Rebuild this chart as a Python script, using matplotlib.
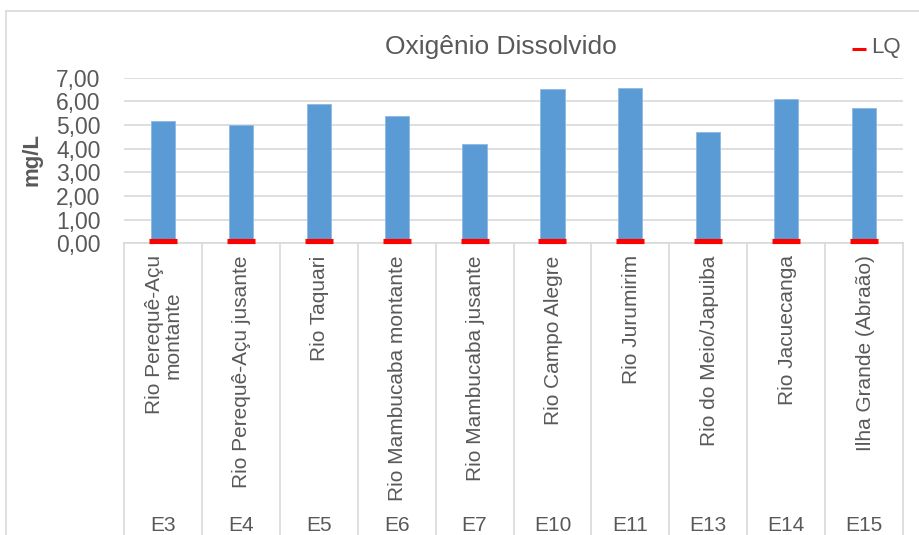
import matplotlib.pyplot as plt
from matplotlib.lines import Line2D
from matplotlib.transforms import blended_transform_factory

# station codes, site names and dissolved oxygen (mg/L)
stations = ["E3", "E4", "E5", "E6", "E7", "E10", "E11", "E13", "E14", "E15"]
sites = ["Rio Perequê-Açu\nmontante", "Rio Perequê-Açu jusante", "Rio Taquari",
         "Rio Mambucaba montante", "Rio Mambucaba jusante", "Rio Campo Alegre",
         "Rio Jurumirim", "Rio do Meio/Japuiba", "Rio Jacuecanga",
         "Ilha Grande (Abraão)"]
od_values = [5.17, 5.00, 5.87, 5.38, 4.20, 6.51, 6.58, 4.69, 6.09, 5.71]
lq_values = [0.10] * 10
y_ticks = [0, 1, 2, 3, 4, 5, 6, 7]

text_col = "#595959"
grid_col = "#D9D9D9"
plt.rcParams["font.family"] = ["Liberation Sans", "DejaVu Sans"]

W, H = 920, 535
fig = plt.figure(figsize=(9.2, 5.35), dpi=100)
ax = fig.add_axes([124 / W, 1 - 243.3 / H, 779 / W, 165.6 / H])

x = list(range(len(stations)))
ax.bar(x, od_values, width=0.31, color="#5B9BD5", edgecolor="#8DB9E4",
       linewidth=0.6, zorder=2)
ax.plot(x, lq_values, linestyle="none", marker="_", markersize=19.5,
        markeredgewidth=3.7, color="#FF0000", zorder=3, clip_on=False)

ax.set_xlim(-0.5, len(stations) - 0.5)
ax.set_ylim(0, 7)
ax.set_yticks(y_ticks)
ax.set_yticklabels([f"{v:.2f}".replace(".", ",") for v in y_ticks])
ax.tick_params(axis="y", length=0, labelsize=16.5, colors=text_col, pad=17)
ax.set_xticks([])
ax.grid(axis="y", color=grid_col, linewidth=1.2, zorder=0)
for s in ["top", "right", "left"]:
    ax.spines[s].set_visible(False)
ax.spines["bottom"].set_color(grid_col)
ax.spines["bottom"].set_linewidth(1.2)

ax.set_ylabel("mg/L", fontsize=16, fontweight="bold", color=text_col)
ax.yaxis.set_label_coords(-0.105, 0.506)

# multi-level category axis
trans = blended_transform_factory(ax.transData, ax.transAxes)
for i, (st, site) in enumerate(zip(stations, sites)):
    ax.annotate(site, xy=(i, 0), xycoords=trans, xytext=(1, -12),
                textcoords="offset pixels", rotation=90, ha="center", va="top",
                multialignment="center", fontsize=15, color=text_col,
                linespacing=1.0)
    ax.annotate(st, xy=(i, 0), xycoords=trans, xytext=(0, -282),
                textcoords="offset pixels", ha="center", va="center",
                fontsize=15, color=text_col)
for k in range(len(stations) + 1):
    ax.add_line(Line2D([k - 0.5, k - 0.5], [0, -1.9], transform=trans,
                       color=grid_col, linewidth=1.2, clip_on=False))

# chart border (top and left visible)
fig.add_artist(Line2D([6.5 / W, 6.5 / W], [0, 1 - 10.5 / H], color=grid_col,
                      linewidth=1.2, transform=fig.transFigure))
fig.add_artist(Line2D([6.5 / W, 1], [1 - 10.5 / H, 1 - 10.5 / H], color=grid_col,
                      linewidth=1.2, transform=fig.transFigure))

fig.text(501 / W, 1 - 47 / H, "Oxigênio Dissolvido", ha="center", va="center",
         fontsize=19, color=text_col)

# legend
fig.add_artist(Line2D([852 / W, 866 / W], [1 - 49 / H, 1 - 49 / H],
                      color="#FF0000", linewidth=2.2, solid_capstyle="butt",
                      transform=fig.transFigure))
fig.text(871 / W, 1 - 48 / H, "LQ", ha="left", va="center", fontsize=16,
         color=text_col)

fig.savefig("out.png", dpi=100)
